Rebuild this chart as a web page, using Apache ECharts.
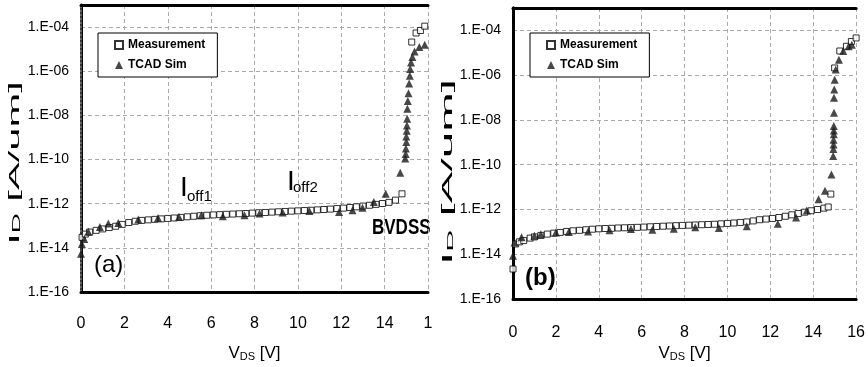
<!DOCTYPE html>
<html>
<head>
<meta charset="utf-8">
<script src="https://cdn.jsdelivr.net/npm/echarts@6/dist/echarts.min.js"></script>
<style>
  html, body { margin: 0; padding: 0; background: #fff; }
  #chart { width: 868px; height: 367px; }
</style>
</head>
<body>
<div id="chart"></div>
<script>
// ---- data: [V_DS (V), I_D (A/um)] ----
// panel (a)
const measA = [
  [0.05, 3.0e-14], [0.2, 4.2e-14], [0.4, 5.2e-14], [0.7, 6.2e-14], [1.0, 7.2e-14],
  [1.3, 8.3e-14], [1.6, 9.5e-14], [1.9, 1.15e-13], [2.2, 1.4e-13], [2.5, 1.6e-13],
  [2.8, 1.75e-13], [3.1, 1.85e-13], [3.4, 1.95e-13], [3.7, 2.05e-13], [4.0, 2.15e-13],
  [4.3, 2.25e-13], [4.6, 2.4e-13], [4.9, 2.55e-13], [5.2, 2.7e-13], [5.5, 2.85e-13],
  [5.8, 3.0e-13], [6.1, 3.1e-13], [6.4, 3.2e-13], [6.7, 3.3e-13], [7.0, 3.4e-13],
  [7.3, 3.5e-13], [7.6, 3.6e-13], [7.9, 3.75e-13], [8.2, 3.9e-13], [8.5, 4.0e-13],
  [8.8, 4.15e-13], [9.1, 4.3e-13], [9.4, 4.45e-13], [9.7, 4.6e-13], [10.0, 4.75e-13],
  [10.3, 4.9e-13], [10.6, 5.05e-13], [10.9, 5.25e-13], [11.2, 5.45e-13], [11.5, 5.7e-13],
  [11.8, 6.0e-13], [12.1, 6.3e-13], [12.4, 6.7e-13], [12.7, 7.2e-13], [13.0, 7.8e-13],
  [13.3, 8.5e-13], [13.6, 9.3e-13], [13.9, 1.02e-12], [14.2, 1.15e-12], [14.5, 1.45e-12],
  [14.8, 2.8e-12], [15.25, 2.1e-5], [15.45, 5.4e-5], [15.65, 7.0e-5], [15.85, 1.1e-4]
];
const simA = [
  [0.0, 5.4e-15], [0.04, 1.5e-14], [0.15, 2.5e-14], [0.34, 5.4e-14], [0.87, 8.9e-14],
  [1.26, 1.26e-13], [1.72, 1.35e-13], [2.64, 1.9e-13], [3.55, 2.25e-13], [4.52, 2.5e-13],
  [5.55, 3.0e-13], [6.54, 2.7e-13], [7.54, 3.0e-13], [8.23, 3.55e-13], [9.3, 4.0e-13],
  [10.53, 4.7e-13], [11.9, 4.2e-13], [12.52, 5.0e-13], [12.98, 6.6e-13], [13.5, 1.2e-12],
  [14.05, 2.8e-12], [14.72, 2.5e-11], [14.95, 1.1e-10], [14.97, 1.8e-10], [14.98, 3.2e-10],
  [15.0, 6.3e-10], [15.0, 1.1e-9], [15.02, 2.0e-9], [15.03, 3.5e-9], [15.04, 7.0e-9],
  [15.05, 2.0e-8], [15.07, 4.5e-8], [15.1, 1.0e-7], [15.13, 2.8e-7], [15.16, 6.3e-7],
  [15.18, 1.25e-6], [15.22, 2.5e-6], [15.28, 4.4e-6], [15.38, 7.9e-6], [15.6, 1.25e-5],
  [15.85, 1.6e-5]
];
// panel (b)
const measB = [
  [0.0, 2.2e-15], [0.12, 2.9e-14], [0.3, 3.6e-14], [0.5, 4.1e-14], [0.8, 5.3e-14],
  [1.0, 6.0e-14], [1.3, 7.0e-14], [1.6, 8.0e-14], [1.9, 8.8e-14], [2.2, 9.5e-14],
  [2.5, 1.05e-13], [2.8, 1.12e-13], [3.1, 1.18e-13], [3.4, 1.25e-13], [3.7, 1.32e-13],
  [4.0, 1.38e-13], [4.3, 1.42e-13], [4.6, 1.45e-13], [4.9, 1.5e-13], [5.2, 1.53e-13],
  [5.5, 1.56e-13], [5.8, 1.6e-13], [6.1, 1.65e-13], [6.4, 1.7e-13], [6.7, 1.75e-13],
  [7.0, 1.8e-13], [7.3, 1.85e-13], [7.6, 1.9e-13], [7.9, 1.95e-13], [8.2, 2.0e-13],
  [8.5, 2.05e-13], [8.8, 2.1e-13], [9.1, 2.15e-13], [9.4, 2.2e-13], [9.7, 2.3e-13],
  [10.0, 2.4e-13], [10.3, 2.5e-13], [10.6, 2.65e-13], [10.9, 2.8e-13], [11.2, 3.1e-13],
  [11.5, 3.5e-13], [11.8, 3.75e-13], [12.1, 4.0e-13], [12.4, 4.4e-13], [12.7, 5.0e-13],
  [13.0, 5.8e-13], [13.3, 6.6e-13], [13.6, 7.6e-13], [13.9, 8.8e-13], [14.2, 1.0e-12],
  [14.5, 1.15e-12], [14.7, 1.3e-12], [14.82, 4.9e-12], [15.0, 2.1e-6], [15.24, 1.2e-5],
  [15.55, 1.95e-5], [15.78, 3.2e-5], [16.0, 4.6e-5]
];
const simB = [
  [0.0, 8.7e-15], [0.07, 3.4e-14], [0.4, 5.8e-14], [1.0, 6.8e-14], [1.3, 7.9e-14],
  [2.0, 9.5e-14], [2.6, 1.0e-13], [3.5, 1.05e-13], [4.5, 1.2e-13], [5.5, 1.35e-13],
  [6.5, 1.25e-13], [7.5, 1.4e-13], [8.5, 1.6e-13], [9.6, 1.5e-13], [10.9, 1.8e-13],
  [12.35, 2.3e-13], [13.2, 4.4e-13], [13.7, 9.0e-13], [14.25, 2.9e-12], [14.55, 6.9e-12],
  [14.85, 3.7e-11], [14.93, 2.45e-10], [14.94, 5.0e-10], [14.95, 8.1e-10], [14.95, 1.3e-9],
  [14.96, 2.3e-9], [14.96, 3.4e-9], [14.96, 5.4e-9], [14.97, 2.1e-8], [14.97, 9.8e-8],
  [14.98, 2.3e-7], [15.0, 6.3e-7], [15.05, 1.8e-6], [15.2, 4.9e-6], [15.4, 1.2e-5],
  [15.65, 1.95e-5], [15.8, 2.3e-5]
];

const seriesNames = ['Measurement', 'TCAD Sim'];
const xMin = 0, xMax = 16, xStep = 2;
const yMin = 1e-16, yMax = 1e-3;

const FONT = '"Liberation Sans", Arial, sans-serif';

// y 轴标签：1.E-04 这种写法，只标偶数次幂
function expLabel(v) {
  const e = Math.round(Math.log10(v));
  if (e % 2 !== 0 || e > -4) return '';
  return '1.E-' + String(-e).padStart(2, '0');
}

const gridLine = { show: true, lineStyle: { color: '#aaa', type: [4, 3], width: 1 } };

function xAxes(gi, lastLabel, labelMargin, nameGap) {
  return [
    {
      gridIndex: gi, type: 'value', position: 'bottom', min: xMin, max: xMax, interval: xStep,
      axisLine: { lineStyle: { color: '#000', width: 3 } },
      axisTick: { show: false },
      axisLabel: {
        margin: labelMargin, fontSize: 16, color: '#000', fontFamily: FONT,
        formatter: (v) => (v === xMax ? lastLabel : String(v))
      },
      splitLine: gridLine,
      name: 'V{s|DS} [V]', nameLocation: 'middle', nameGap,
      nameTextStyle: {
        fontSize: 17, color: '#000', fontFamily: FONT, verticalAlign: 'bottom',
        rich: { s: { fontSize: 11, fontFamily: FONT, color: '#000', verticalAlign: 'bottom' } }
      }
    },
    {
      gridIndex: gi, type: 'value', position: 'top', min: xMin, max: xMax,
      axisLine: { lineStyle: { color: '#000', width: 3 } },
      axisTick: { show: false }, axisLabel: { show: false }, splitLine: { show: false }
    }
  ];
}

function yAxes(gi, rightStyle) {
  return [
    {
      gridIndex: gi, type: 'log', logBase: 10, min: yMin, max: yMax, interval: 2,
      position: 'left',
      axisLine: { lineStyle: { color: '#000', width: 3 } },
      axisTick: { show: false },
      axisLabel: { margin: 12, fontSize: 14, color: '#000', fontFamily: FONT, formatter: expLabel },
      splitLine: gridLine
    },
    {
      gridIndex: gi, type: 'log', logBase: 10, min: yMin, max: yMax, position: 'right',
      axisLine: { lineStyle: rightStyle },
      axisTick: { show: false }, axisLabel: { show: false }, splitLine: { show: false }
    }
  ];
}

function legendAt(left, top) {
  return {
    left, top, orient: 'vertical', itemGap: 8, itemWidth: 8, itemHeight: 8,
    padding: [6, 12, 6, 16], borderColor: '#000', borderWidth: 1, backgroundColor: '#fff',
    textStyle: { fontSize: 12, fontWeight: 'bold', color: '#000', fontFamily: FONT },
    data: seriesNames, selectedMode: false
  };
}

function measSeries(xi, yi, data) {
  return {
    name: seriesNames[0], type: 'scatter', xAxisIndex: xi, yAxisIndex: yi, data,
    symbol: 'rect', symbolSize: 6, z: 3,
    itemStyle: { color: '#fff', borderColor: '#000', borderWidth: 1 }
  };
}
function simSeries(xi, yi, data) {
  return {
    name: seriesNames[1], type: 'scatter', xAxisIndex: xi, yAxisIndex: yi, data,
    symbol: 'triangle', symbolSize: 8, z: 4,
    itemStyle: { color: '#1a1a1a' }
  };
}

// 原图里纵轴标题被拉长了，这里用 scaleX 沿文字方向拉伸
function yTitle(x, y, size, sx) {
  return {
    type: 'text', x, y, rotation: Math.PI / 2, scaleX: sx,
    style: {
      text: '{m|I}{s|D}{m| [A/um]}', align: 'center', verticalAlign: 'middle',
      rich: {
        m: { fontSize: size, fontFamily: FONT, fill: '#000', verticalAlign: 'bottom' },
        s: { fontSize: Math.round(size * 0.65), fontFamily: FONT, fill: '#000', verticalAlign: 'bottom' }
      }
    }
  };
}

const chart = echarts.init(document.getElementById('chart'), null, { renderer: 'canvas' });

chart.setOption({
  animation: false,
  backgroundColor: '#fff',
  grid: [
    { left: 81, top: 5, width: 347, height: 287 },
    { left: 513, top: 8, width: 345, height: 294 }
  ],
  xAxis: [
    ...xAxes(0, '1', 24, 70),
    ...xAxes(1, '16', 25, 56)
  ],
  yAxis: [
    ...yAxes(0, { color: '#888', width: 1.5, type: [2, 2] }),
    ...yAxes(1, { color: '#000', width: 3 })
  ],
  legend: [legendAt(98, 33), legendAt(530, 33)],
  series: [
    measSeries(0, 0, measA),
    simSeries(0, 0, simA),
    measSeries(2, 2, measB),
    simSeries(2, 2, simB)
  ],
  graphic: [
    yTitle(15, 163, 15, 2.78),
    yTitle(448, 172, 14, 3.4),
    { type: 'text', left: 180, top: 174, style: { text: 'I', fontSize: 28, fontFamily: FONT, fill: '#000' } },
    { type: 'text', left: 187, top: 189, style: { text: 'off1', fontSize: 15, fontFamily: FONT, fill: '#000' } },
    { type: 'text', left: 287, top: 168, style: { text: 'I', fontSize: 28, fontFamily: FONT, fill: '#000' } },
    { type: 'text', left: 293, top: 180, style: { text: 'off2', fontSize: 15, fontFamily: FONT, fill: '#000' } },
    { type: 'text', x: 372, y: 228, scaleY: 1.3, style: { text: 'BVDSS', fontSize: 17, fontWeight: 'bold', fontFamily: FONT, fill: '#000', verticalAlign: 'middle' } },
    { type: 'text', left: 94, top: 253, style: { text: '(a)', fontSize: 24, fontFamily: FONT, fill: '#000' } },
    { type: 'text', left: 525, top: 266, style: { text: '(b)', fontSize: 24, fontWeight: 'bold', fontFamily: FONT, fill: '#000' } }
  ]
});
</script>
</body>
</html>
